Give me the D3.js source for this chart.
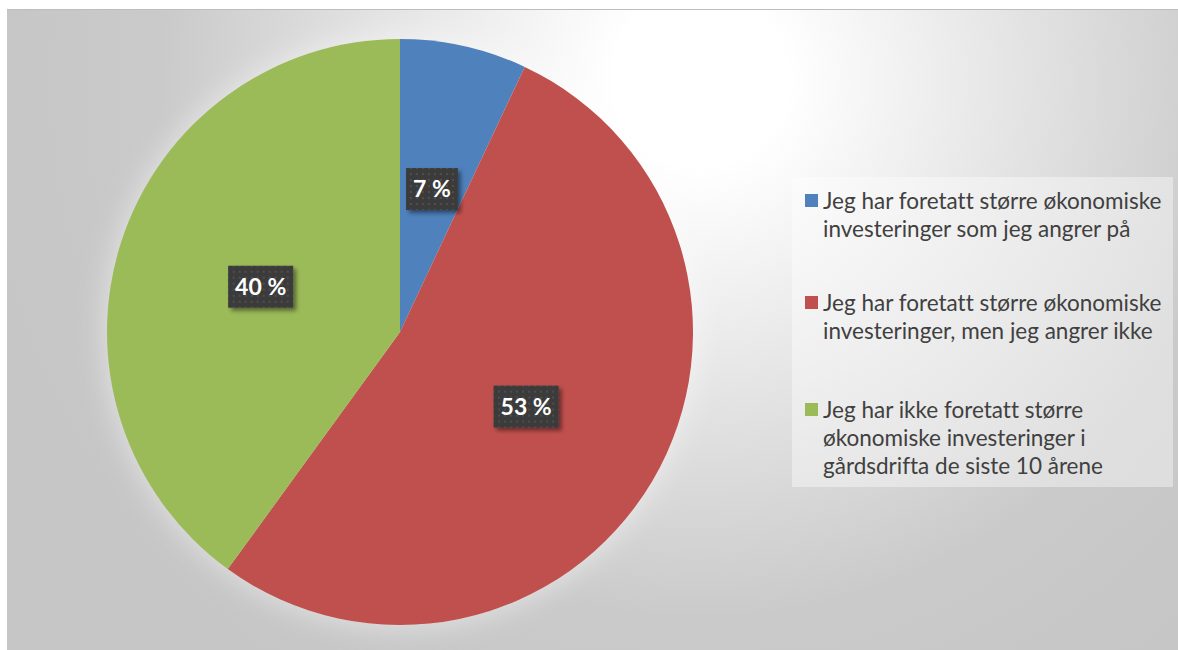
<!DOCTYPE html>
<html>
<head>
<meta charset="utf-8">
<script src="https://cdn.jsdelivr.net/npm/d3@7"></script>
<style>
  html, body { margin: 0; padding: 0; background: #ffffff; }
  svg { display: block; }
  text { font-variant-ligatures: none; }
</style>
</head>
<body>
<svg id="chart" width="1178" height="650"></svg>
<script>
// ---- data ----
const categories = [
  "Jeg har foretatt større økonomiske investeringer som jeg angrer på",
  "Jeg har foretatt større økonomiske investeringer, men jeg angrer ikke",
  "Jeg har ikke foretatt større økonomiske investeringer i gårdsdrifta de siste 10 årene"
];
const legendLines = [
  ["Jeg har foretatt større økonomiske", "investeringer som jeg angrer på"],
  ["Jeg har foretatt større økonomiske", "investeringer, men jeg angrer ikke"],
  ["Jeg har ikke foretatt større", "økonomiske investeringer i", "gårdsdrifta de siste 10 årene"]
];
const values = [7, 53, 40];
const valueLabels = ["7 %", "53 %", "40 %"];
const colors = ["#4F81BD", "#C0504D", "#9BBB59"];

// ---- layout ----
const svg = d3.select("#chart");
const W = 1178, H = 650;
const defs = svg.append("defs");

const bg = defs.append("radialGradient")
  .attr("id", "bgGrad")
  .attr("gradientUnits", "userSpaceOnUse")
  .attr("cx", 700).attr("cy", 80).attr("r", 720)
  .attr("fx", 700).attr("fy", 80);
bg.append("stop").attr("offset", "0%").attr("stop-color", "#ffffff");
bg.append("stop").attr("offset", "12%").attr("stop-color", "#ffffff");
bg.append("stop").attr("offset", "75%").attr("stop-color", "#cacaca");
bg.append("stop").attr("offset", "100%").attr("stop-color", "#c6c6c6");

// dotted texture for label boxes
const pat = defs.append("pattern")
  .attr("id", "dots").attr("patternUnits", "userSpaceOnUse")
  .attr("width", 6).attr("height", 6);
pat.append("rect").attr("width", 6).attr("height", 6).attr("fill", "#3b3b3b");
pat.append("rect").attr("x", 2).attr("y", 2).attr("width", 2).attr("height", 2).attr("fill", "#4e4e4e");

const shadow = defs.append("filter").attr("id", "shadow")
  .attr("x", "-30%").attr("y", "-30%").attr("width", "160%").attr("height", "160%");
shadow.append("feDropShadow").attr("dx", 3).attr("dy", 3).attr("stdDeviation", 2.2)
  .attr("flood-color", "#000").attr("flood-opacity", 0.45);

const glow = defs.append("filter").attr("id", "glow")
  .attr("x", "-30%").attr("y", "-30%").attr("width", "160%").attr("height", "160%");
glow.append("feGaussianBlur").attr("stdDeviation", 14);

// chart area
svg.append("rect").attr("x", 7).attr("y", 9).attr("width", W - 7).attr("height", H - 9)
  .attr("fill", "url(#bgGrad)");
svg.append("line").attr("x1", 7).attr("x2", W).attr("y1", 9.5).attr("y2", 9.5)
  .attr("stroke", "#bdbdbd").attr("stroke-width", 1);

// pie
const cx = 400, cy = 332, R = 293;
const pie = d3.pie().sort(null).value(d => d)(values);
const arc = d3.arc().innerRadius(0).outerRadius(R);
const labelArc = d3.arc().innerRadius(R * 0.5).outerRadius(R * 0.5);

const g = svg.append("g").attr("transform", `translate(${cx},${cy})`);
// soft white glow around the pie
g.append("circle").attr("r", R + 3).attr("fill", "#ffffff").attr("opacity", 0.45)
  .attr("filter", "url(#glow)");
g.selectAll("path.slice").data(pie).join("path")
  .attr("class", "slice")
  .attr("d", arc)
  .attr("fill", (d, i) => colors[i]);

// data labels
const lab = g.selectAll("g.lab").data(pie).join("g")
  .attr("class", "lab")
  .attr("transform", d => `translate(${labelArc.centroid(d)})`);
lab.each(function(d, i) {
  const sel = d3.select(this);
  const t = sel.append("text")
    .attr("text-anchor", "middle")
    .attr("dy", "0.36em")
    .attr("font-family", "Lato, 'Open Sans', sans-serif")
    .attr("font-weight", "bold")
    .attr("font-size", 23)
    .attr("fill", "#ffffff")
    .text(valueLabels[i]);
  const bb = t.node().getBBox();
  const padX = 7, h = 42;
  sel.insert("rect", "text")
    .attr("x", bb.x - padX).attr("y", -h / 2)
    .attr("width", bb.width + padX * 2).attr("height", h)
    .attr("fill", "url(#dots)")
    .attr("filter", "url(#shadow)");
});

// legend
svg.append("rect").attr("x", 792).attr("y", 177).attr("width", 381).attr("height", 310)
  .attr("fill", "#ffffff").attr("fill-opacity", 0.4);

const legendTops = [201, 303, 410];
const lineH = 28;
const leg = svg.append("g");
legendLines.forEach((lines, i) => {
  leg.append("rect").attr("x", 805).attr("y", legendTops[i] - 7)
    .attr("width", 13).attr("height", 13).attr("fill", colors[i]);
  const t = leg.append("text")
    .attr("font-family", "Lato, 'Open Sans', sans-serif")
    .attr("font-size", 22.5)
    .attr("fill", "#404040");
  lines.forEach((ln, j) => {
    t.append("tspan").attr("x", 823).attr("y", legendTops[i] + j * lineH).attr("dy", "0.35em").text(ln);
  });
});
</script>
</body>
</html>
